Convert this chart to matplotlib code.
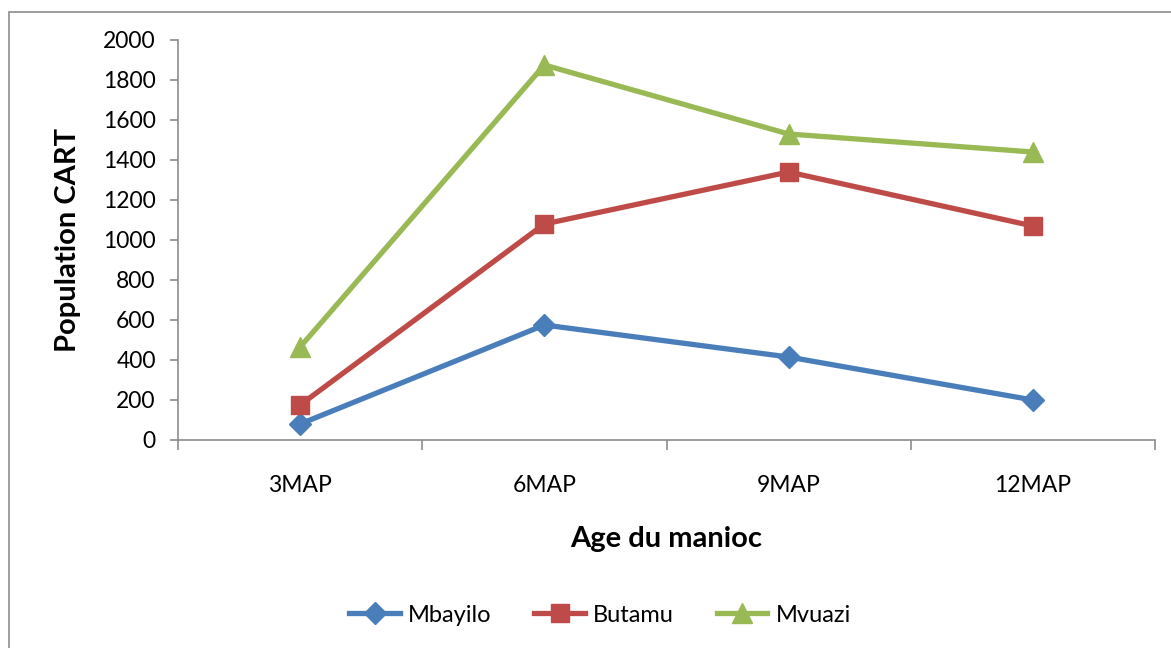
import matplotlib.pyplot as plt
from matplotlib.patches import Rectangle

categories = ['3MAP', '6MAP', '9MAP', '12MAP']
mbayilo = [80, 575, 415, 200]
butamu = [175, 1080, 1340, 1070]
mvuazi = [465, 1875, 1530, 1440]
yticks = list(range(0, 2001, 200))

plt.rcParams['font.family'] = ['Lato', 'DejaVu Sans']

fig = plt.figure(figsize=(11.71, 6.48), dpi=100)
ax = fig.add_axes([178 / 1171, 1 - 440 / 648, (1155 - 178) / 1171, 400 / 648])

# outer chart border (cut off at right and bottom)
fig.patches.append(Rectangle((9 / 1171, -0.05), 1.2, 1 - 12 / 648 + 0.05,
                             transform=fig.transFigure, fill=False,
                             edgecolor='#8c8c8c', linewidth=1.2))

x = range(len(categories))
ax.plot(x, mbayilo, color='#4A7EBB', lw=3.8, marker='D', ms=11, label='Mbayilo')
ax.plot(x, butamu, color='#BE4B48', lw=3.8, marker='s', ms=13, label='Butamu')
ax.plot(x, mvuazi, color='#98B954', lw=3.8, marker='^', ms=14, label='Mvuazi')

ax.set_xlim(-0.5, 3.5)
ax.set_ylim(0, 2000)
ax.set_yticks(yticks)
ax.set_xticks(x)
ax.set_xticklabels(categories)
ax.set_xticks([-0.5, 0.5, 1.5, 2.5, 3.5], minor=True)
ax.tick_params(axis='x', which='major', length=0, pad=25, labelsize=16.5)
ax.tick_params(axis='x', which='minor', length=7, width=1.2, color='#8c8c8c')
ax.tick_params(axis='y', length=6, width=1.2, color='#8c8c8c', labelsize=16.5, pad=10)

for side in ['top', 'right']:
    ax.spines[side].set_visible(False)
for side in ['left', 'bottom']:
    ax.spines[side].set_color('#8c8c8c')
    ax.spines[side].set_linewidth(1.2)

ax.set_xlabel('Age du manioc', fontsize=21, fontweight='bold', labelpad=22)
ax.set_ylabel('Population CART', fontsize=21, fontweight='bold', labelpad=16)

fig.legend(loc='center', bbox_to_anchor=(600 / 1171, 1 - 615 / 648), ncol=3,
           frameon=False, fontsize=17, handlelength=2.15, columnspacing=1.8,
           handletextpad=0.35)

fig.savefig('out.png', dpi=100)
